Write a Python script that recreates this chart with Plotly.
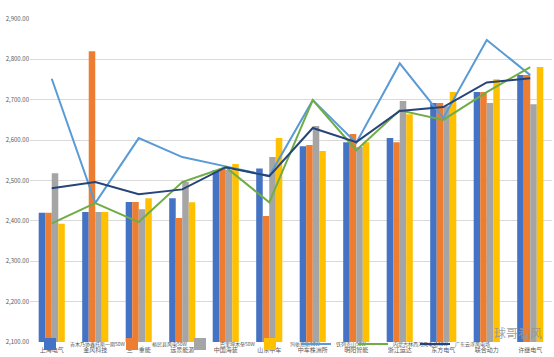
import plotly.graph_objects as go

categories = ["上海电气", "金风科技", "三一重能", "远景能源", "中国海装", "山东中车",
              "中车株洲所", "明阳智能", "浙江运达", "东方电气", "联合动力", "许继电气"]

bar_names = ["吉木乃协鑫托斯一期50W", "裕民县风电50W", "巴里坤木垒50W", "玛依塔斯50W"]
bar_blue = [2420, 2422, 2447, 2456, 2526, 2530, 2585, 2595, 2605, 2692, 2719, 2761]
bar_orange = [2420, 2820, 2447, 2407, 2531, 2412, 2588, 2615, 2595, 2692, 2719, 2761]
bar_gray = [2518, 2422, 2429, 2496, 2526, 2558, 2635, 2583, 2697, 2684, 2692, 2689]
bar_yellow = [2393, 2422, 2456, 2446, 2541, 2605, 2573, 2595, 2664, 2719, 2751, 2781]

line_names = ["铁列克山50W", "内蒙古林西河风电场50W", "广东云浮风电场"]
line_lightblue = [2752, 2444, 2605, 2558, 2535, 2511, 2699, 2593, 2790, 2655, 2848, 2761]
line_green = [2394, 2444, 2397, 2496, 2533, 2446, 2699, 2575, 2674, 2650, 2719, 2781]
line_navy = [2481, 2496, 2466, 2478, 2533, 2511, 2630, 2595, 2672, 2682, 2743, 2753]

bar_colors = ["#4472C4", "#ED7D31", "#A5A5A5", "#FFC000"]
line_colors = ["#5B9BD5", "#70AD47", "#264478"]

W, H = 554, 357
ML, MR, MT, MB = 30, 2, 19, 15
# legend anchor positions (in pixels, left edge of each legend entry)
legend_px = [30, 112, 180, 250, 296, 353, 415]
legend_keys = ["legend"] + [f"legend{i}" for i in range(2, 8)]

fig = go.Figure()
k = 0
for name, vals, col in zip(bar_names, [bar_blue, bar_orange, bar_gray, bar_yellow], bar_colors):
    fig.add_trace(go.Bar(x=categories, y=vals, name=name, marker_color=col,
                         marker_line_width=0, legend=legend_keys[k]))
    k += 1
for name, vals, col in zip(line_names, [line_lightblue, line_green, line_navy], line_colors):
    fig.add_trace(go.Scatter(x=categories, y=vals, name=name, mode="lines",
                             line=dict(color=col, width=2), legend=legend_keys[k]))
    k += 1

pw = W - ML - MR
ph = H - MT - MB
legend_y = (H - MB - 344) / ph
legends = {}
for key, px in zip(legend_keys, legend_px):
    legends[key] = dict(orientation="h", x=(px - ML) / pw, xanchor="left",
                        y=legend_y, yanchor="middle",
                        font=dict(size=5, color="#595959"), itemwidth=30,
                        bgcolor="rgba(0,0,0,0)", borderwidth=0)

fig.update_layout(
    width=W, height=H,
    margin=dict(l=ML, r=MR, t=MT, b=MB, autoexpand=False),
    paper_bgcolor="white", plot_bgcolor="white",
    barmode="group", bargap=0.4, bargroupgap=0,
    font=dict(family="Noto Sans CJK SC", size=7, color="#595959"),
    showlegend=True,
    xaxis=dict(showgrid=False, showline=False, ticks="", ticklabelstandoff=3,
               tickfont=dict(size=6, color="#595959")),
    yaxis=dict(range=[2100, 2900], dtick=100, tickformat=",.2f",
               showgrid=True, gridcolor="#D9D9D9", gridwidth=1,
               zeroline=False, showline=False, ticks="",
               tickfont=dict(size=6, color="#595959")),
    annotations=[dict(text="球哥看风", x=0.985, y=0.03, xref="paper", yref="paper",
                      xanchor="right", yanchor="middle", showarrow=False,
                      font=dict(size=12, color="rgba(150,150,150,0.9)"))],
    **legends,
)

fig.write_html("out.html", config={"displayModeBar": False},
               post_script="document.body.style.margin='0';")
